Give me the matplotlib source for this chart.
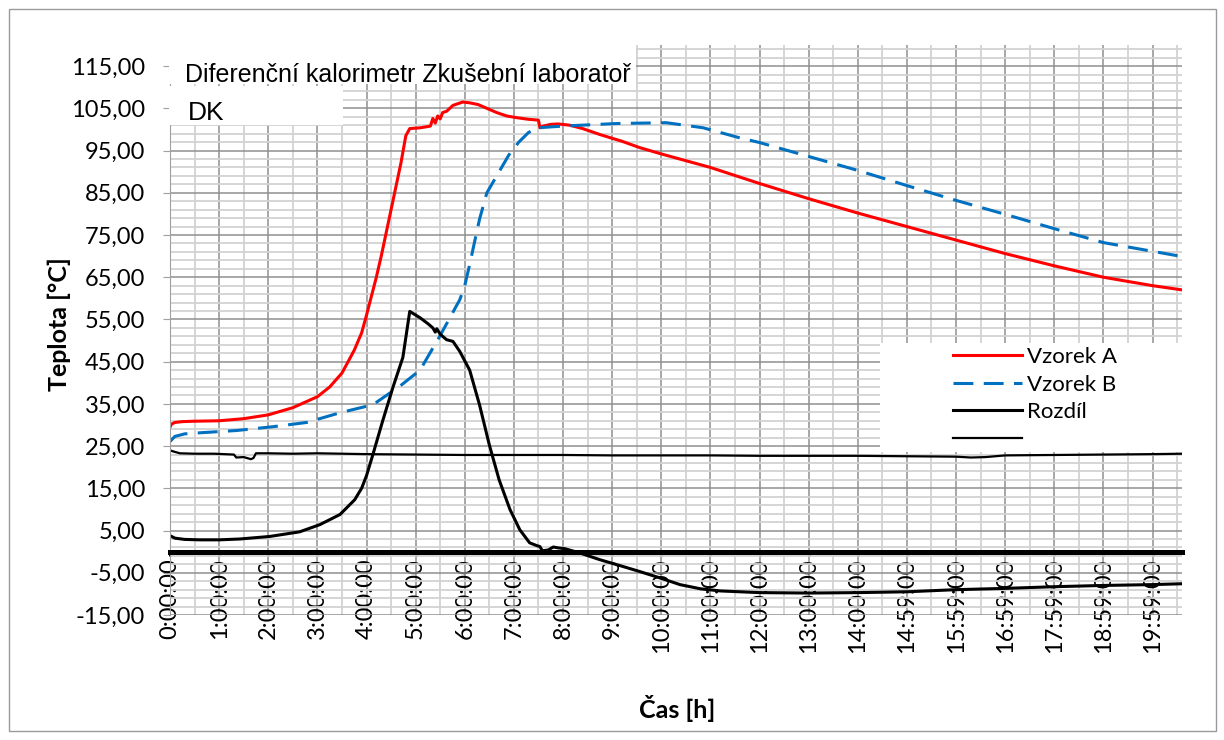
import numpy as np
import matplotlib
matplotlib.use("Agg")
import matplotlib.pyplot as plt
from matplotlib.patches import Rectangle
from matplotlib.ticker import FuncFormatter

plt.rcParams["font.family"] = ["Lato", "DejaVu Sans"]

# --- data (time in hours) ---
hours_a = [0, 0.03, 0.1, 0.25, 0.5, 1.0, 1.5, 2.0, 2.5, 3.0, 3.25, 3.5, 3.75, 3.9,
           4.0, 4.1, 4.2, 4.3, 4.4, 4.5, 4.6, 4.7, 4.8, 4.88, 5.1, 5.3, 5.32, 5.35,
           5.4, 5.45, 5.5, 5.55, 5.63, 5.76, 5.96, 6.1, 6.27, 6.45, 6.65, 6.85,
           7.05, 7.3, 7.5, 7.53, 7.6, 7.75, 7.9, 8.14, 8.4, 8.75, 9.2, 9.56, 10.0,
           10.5, 11.0, 12, 13, 14, 15, 16, 17, 18, 19, 20, 20.6]
vzorek_a = [29.5, 30.2, 30.6, 30.8, 30.9, 31.0, 31.5, 32.4, 34.1, 36.7, 39.0, 42.3,
            47.7, 51.8, 56.0, 60.5, 65.0, 70.0, 75.5, 81.0, 86.5, 92.0, 98.5,
            100.2, 100.4, 100.8, 101.5, 102.6, 101.5, 103.2, 102.5, 104.0, 104.3,
            105.7, 106.5, 106.3, 105.9, 105.0, 104.0, 103.2, 102.8, 102.4, 102.2,
            100.4, 100.8, 101.2, 101.3, 101.0, 100.2, 98.8, 97.2, 95.7, 94.2, 92.6,
            91.0, 87.2, 83.6, 80.2, 77.0, 73.8, 70.6, 67.7, 65.0, 63.0, 62.0]

hours_b = [0, 0.1, 0.3, 0.67, 1.36, 2.1, 2.78, 3.46, 4.13, 4.68, 5.09, 5.49, 5.9,
           6.0, 6.1, 6.23, 6.3, 6.45, 6.7, 6.9, 7.1, 7.3, 7.5, 8.0, 9.09, 10.1,
           10.85, 11.6, 12, 13, 14, 15, 16, 17, 18, 19, 20.6]
vzorek_b = [26.1, 27.3, 27.9, 28.2, 28.7, 29.6, 30.6, 32.9, 34.8, 39.2, 43.0, 51.0,
            59.7, 63.0, 68.0, 75.0, 78.7, 85.0, 90.0, 94.0, 97.0, 99.3, 100.4,
            100.8, 101.4, 101.6, 100.4, 98.0, 96.9, 93.6, 90.3, 86.7, 83.2, 79.9,
            76.5, 73.2, 69.9]

hours_d = [0, 0.1, 0.3, 0.6, 1.0, 1.42, 2.03, 2.64, 3.05, 3.46, 3.76, 3.9, 4.0,
           4.13, 4.33, 4.54, 4.74, 4.88, 5.09, 5.25, 5.35, 5.4, 5.43, 5.5, 5.63,
           5.76, 5.9, 6.1, 6.3, 6.5, 6.7, 6.92, 7.12, 7.32, 7.45, 7.53, 7.58, 7.7,
           7.8, 7.9, 8.04, 8.34, 8.75, 9.16, 9.56, 9.97, 10.38, 10.8, 11.2, 12, 13,
           14, 15, 16, 17, 18, 19, 20, 20.6]
rozdil = [3.8, 3.2, 2.9, 2.8, 2.8, 3.0, 3.6, 4.7, 6.4, 8.8, 12.3, 15.0, 18.0, 23.0,
          31.0, 39.0, 46.0, 56.9, 55.4, 54.0, 53.0, 52.0, 52.8, 51.5, 50.2, 49.8,
          47.4, 43.0, 34.8, 25.3, 17.0, 10.0, 5.2, 2.1, 1.5, 1.2, 0.2, 0.4, 1.1,
          0.9, 0.7, -0.3, -1.9, -3.3, -4.7, -6.2, -7.8, -8.8, -9.3, -9.7, -9.8,
          -9.7, -9.5, -9.0, -8.7, -8.3, -8.0, -7.8, -7.6]

hours_o = [0, 0.05, 0.2, 0.5, 0.9, 1.3, 1.35, 1.5, 1.65, 1.7, 1.75, 2.0, 2.5, 3.0,
           4, 5, 6, 7, 8, 9, 10, 11, 12, 13, 14, 15, 16, 16.3, 16.6, 17, 18, 19,
           20, 20.6]
okoli = [24.0, 23.8, 23.3, 23.2, 23.2, 23.0, 22.3, 22.4, 21.9, 22.2, 23.3, 23.3,
         23.2, 23.3, 23.1, 23.0, 22.9, 22.9, 22.9, 22.8, 22.8, 22.8, 22.7, 22.7,
         22.7, 22.6, 22.5, 22.3, 22.4, 22.8, 22.9, 23.0, 23.1, 23.2]

x_labels = ["0:00:00", "1:00:00", "2:00:00", "3:00:00", "4:00:00", "5:00:00",
            "6:00:00", "7:00:00", "8:00:00", "9:00:00", "10:00:00", "11:00:00",
            "12:00:00", "13:00:00", "14:00:00", "14:59:00", "15:59:00",
            "16:59:00", "17:59:00", "18:59:00", "19:59:00"]
legend_labels = ["Vzorek A", "Vzorek B", "Rozdíl", ""]

W, H = 1224, 740
fig = plt.figure(figsize=(W / 100, H / 100), dpi=100)
fig.patch.set_facecolor("white")

# outer chart border
fig.patches.append(Rectangle((9 / W, 1 - 731 / H), 1207 / W, 722 / H,
                             transform=fig.transFigure, fill=False,
                             edgecolor="#9a9a9a", lw=1.0, zorder=0))

ax = fig.add_axes([170 / W, 1 - 615 / H, 1012 / W, 570 / H])
ax.set_xlim(0, 20.6)
ax.set_ylim(-15, 120)

ax.set_xticks(np.arange(len(x_labels)))
ax.set_xticks(np.arange(0.5, 20.6, 0.5), minor=True)
ax.set_xticklabels(x_labels)
ax.set_yticks(np.arange(-15, 116, 10))
ax.set_yticks(np.arange(-15, 121, 2), minor=True)
ax.yaxis.set_major_formatter(FuncFormatter(lambda v, p: f"{v:.2f}".replace(".", ",")))
ax.tick_params(axis="y", which="major", labelsize=17, length=5, color="#a0a0a0",
               pad=13)
ax.tick_params(axis="x", which="major", length=3, width=2.2, color="black", pad=2,
               labelsize=17, labelrotation=90)
ax.tick_params(which="minor", length=0)

ax.grid(which="major", color="#8f8f8f", lw=1.1)
ax.grid(which="minor", color="#d2d2d2", lw=1.3)

for s in ["top", "right"]:
    ax.spines[s].set_visible(False)
ax.spines["left"].set_color("#a0a0a0")
ax.spines["bottom"].set_position(("data", 0))
ax.spines["bottom"].set_color("black")
ax.spines["bottom"].set_linewidth(3.6)
ax.spines["bottom"].set_zorder(3)

l_a, = ax.plot(hours_a, vzorek_a, color="#ff0000", lw=2.2)
l_b, = ax.plot(hours_b, vzorek_b, color="#0070c0", lw=2.2, dashes=(6.5, 3.4))
l_d, = ax.plot(hours_d, rozdil, color="black", lw=2.2)
l_o, = ax.plot(hours_o, okoli, color="black", lw=1.6)

# legend with white background
ax.add_patch(Rectangle(((880 - 170) / 1012, (615 - 452) / 570), 303 / 1012, 109 / 570,
                       transform=ax.transAxes, facecolor="white", edgecolor="none",
                       zorder=4))
leg = fig.legend([l_a, l_b, l_d, l_o], legend_labels, loc="upper left",
                 bbox_to_anchor=(953 / W, 1 - 347 / H), frameon=False, fontsize=16,
                 borderpad=0, borderaxespad=0, handlelength=3.1, handletextpad=0.25,
                 labelspacing=0.34)
leg.set_zorder(6)

# title boxes
fig.patches.append(Rectangle((169 / W, 1 - 84 / H), 467 / W, 44 / H,
                             transform=fig.transFigure, facecolor="white",
                             edgecolor="none", zorder=5))
fig.patches.append(Rectangle((169 / W, 1 - 125 / H), 174 / W, 39 / H,
                             transform=fig.transFigure, facecolor="white",
                             edgecolor="none", zorder=5))
fig.text(185 / W, 1 - 82 / H, "Diferenční kalorimetr Zkušební laboratoř",
         fontsize=18, family=["Liberation Sans"],
         va="baseline", ha="left", zorder=6)
fig.text(188 / W, 1 - 120 / H, "DK", fontsize=19, family=["Liberation Sans"],
         va="baseline", ha="left", zorder=6)

fig.text(59 / W, 1 - 324 / H, "Teplota [°C]", rotation=90, fontsize=18,
         fontweight="bold", ha="center", va="center")
fig.text(677 / W, 1 - 709 / H, "Čas [h]", fontsize=18, fontweight="bold",
         ha="center", va="center")

fig.savefig("out.png", dpi=100)
